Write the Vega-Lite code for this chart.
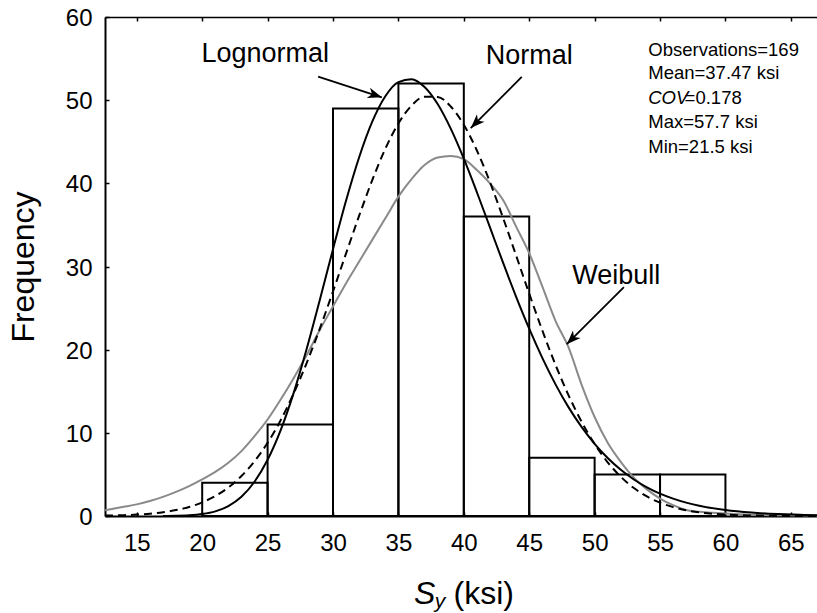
{
  "$schema": "https://vega.github.io/schema/vega-lite/v6.json",
  "autosize": {"type": "none"},
  "padding": {"left": 105, "top": 17, "right": 0, "bottom": 97},
  "width": 712,
  "height": 499,
  "background": "white",
  "config": {
    "view": {"stroke": null},
    "font": "Liberation Sans",
    "axis": {
      "grid": false,
      "domainColor": "black",
      "domainWidth": 2,
      "tickColor": "black",
      "tickWidth": 1.5,
      "tickSize": -4,
      "labelColor": "black",
      "labelFont": "Liberation Sans",
      "labelFontSize": 24,
      "titleColor": "black",
      "titleFont": "Liberation Sans",
      "titleFontWeight": "normal"
    }
  },
  "datasets": {
    "bins": [
      {"x0": 20, "x1": 25, "count": 4},
      {"x0": 25, "x1": 30, "count": 11},
      {"x0": 30, "x1": 35, "count": 49},
      {"x0": 35, "x1": 40, "count": 52},
      {"x0": 40, "x1": 45, "count": 36},
      {"x0": 45, "x1": 50, "count": 7},
      {"x0": 50, "x1": 55, "count": 5},
      {"x0": 55, "x1": 60, "count": 5}
    ],
    "weibull": [
      {"x": 12.57, "y": 0.7}, {"x": 14, "y": 1.1}, {"x": 15, "y": 1.4}, {"x": 16, "y": 1.8},
      {"x": 17, "y": 2.3}, {"x": 18, "y": 2.9}, {"x": 19, "y": 3.6}, {"x": 20, "y": 4.4},
      {"x": 21, "y": 5.3}, {"x": 22, "y": 6.4}, {"x": 23, "y": 7.8}, {"x": 24, "y": 9.6},
      {"x": 25, "y": 11.6}, {"x": 26, "y": 14.0}, {"x": 27, "y": 16.6}, {"x": 28, "y": 19.4},
      {"x": 29, "y": 22.4}, {"x": 30, "y": 25.2}, {"x": 31, "y": 28.0}, {"x": 32, "y": 30.6},
      {"x": 33, "y": 33.2}, {"x": 34, "y": 35.8}, {"x": 35, "y": 38.4}, {"x": 36, "y": 40.5},
      {"x": 37, "y": 42.2}, {"x": 38, "y": 43.1}, {"x": 39, "y": 43.3}, {"x": 40, "y": 42.9},
      {"x": 41, "y": 41.6}, {"x": 42, "y": 40.0}, {"x": 43, "y": 38.0}, {"x": 44, "y": 34.8},
      {"x": 45, "y": 31.6}, {"x": 46, "y": 27.6}, {"x": 47, "y": 23.5}, {"x": 48, "y": 20.3},
      {"x": 49, "y": 15.8}, {"x": 50, "y": 11.9}, {"x": 51, "y": 8.8}, {"x": 52, "y": 6.5},
      {"x": 53, "y": 4.6}, {"x": 54, "y": 3.2}, {"x": 55, "y": 2.1}, {"x": 56, "y": 1.3},
      {"x": 57, "y": 0.72}, {"x": 58, "y": 0.5}, {"x": 59, "y": 0.4}, {"x": 60, "y": 0.3},
      {"x": 62, "y": 0.15}, {"x": 64, "y": 0.08}, {"x": 67, "y": 0.05}
    ],
    "normal": [
      {"x": 12.57, "y": 0.05}, {"x": 14, "y": 0.10}, {"x": 15, "y": 0.17}, {"x": 16, "y": 0.28},
      {"x": 17, "y": 0.46}, {"x": 18, "y": 0.71}, {"x": 19, "y": 1.09}, {"x": 20, "y": 1.64},
      {"x": 21, "y": 2.40}, {"x": 22, "y": 3.43}, {"x": 23, "y": 4.81}, {"x": 24, "y": 6.58},
      {"x": 25, "y": 8.80}, {"x": 26, "y": 11.52}, {"x": 27, "y": 14.75}, {"x": 28, "y": 18.45},
      {"x": 29, "y": 22.57}, {"x": 30, "y": 27.00}, {"x": 31, "y": 31.58}, {"x": 32, "y": 36.11},
      {"x": 33, "y": 40.38}, {"x": 34, "y": 44.16}, {"x": 35, "y": 47.20}, {"x": 36, "y": 49.34},
      {"x": 37, "y": 50.42}, {"x": 38, "y": 50.39}, {"x": 39, "y": 49.24}, {"x": 40, "y": 47.04},
      {"x": 41, "y": 43.95}, {"x": 42, "y": 40.14}, {"x": 43, "y": 35.85}, {"x": 44, "y": 31.31},
      {"x": 45, "y": 26.73}, {"x": 46, "y": 22.32}, {"x": 47, "y": 18.21}, {"x": 48, "y": 14.54},
      {"x": 49, "y": 11.35}, {"x": 50, "y": 8.66}, {"x": 51, "y": 6.46}, {"x": 52, "y": 4.72},
      {"x": 53, "y": 3.36}, {"x": 54, "y": 2.35}, {"x": 55, "y": 1.60}, {"x": 56, "y": 1.07},
      {"x": 57, "y": 0.69}, {"x": 58, "y": 0.44}, {"x": 59, "y": 0.28}, {"x": 60, "y": 0.17},
      {"x": 62, "y": 0.06}, {"x": 64, "y": 0.02}, {"x": 67, "y": 0.0}
    ],
    "lognormal": [
      {"x": 17, "y": 0.01}, {"x": 18, "y": 0.03}, {"x": 19, "y": 0.09}, {"x": 20, "y": 0.24},
      {"x": 21, "y": 0.56}, {"x": 22, "y": 1.20}, {"x": 23, "y": 2.32}, {"x": 24, "y": 4.12},
      {"x": 25, "y": 6.76}, {"x": 26, "y": 10.33}, {"x": 27, "y": 14.84}, {"x": 28, "y": 20.17},
      {"x": 29, "y": 26.03}, {"x": 30, "y": 32.08}, {"x": 31, "y": 37.93}, {"x": 32, "y": 43.14},
      {"x": 33, "y": 47.41}, {"x": 34, "y": 50.47}, {"x": 35, "y": 52.17}, {"x": 36, "y": 52.52},
      {"x": 37, "y": 51.58}, {"x": 38, "y": 49.53}, {"x": 39, "y": 46.57}, {"x": 40, "y": 42.96},
      {"x": 41, "y": 38.93}, {"x": 42, "y": 34.70}, {"x": 43, "y": 30.46}, {"x": 44, "y": 26.36},
      {"x": 45, "y": 22.52}, {"x": 46, "y": 19.01}, {"x": 47, "y": 15.86}, {"x": 48, "y": 13.09},
      {"x": 49, "y": 10.71}, {"x": 50, "y": 8.67}, {"x": 51, "y": 6.97}, {"x": 52, "y": 5.55},
      {"x": 53, "y": 4.39}, {"x": 54, "y": 3.45}, {"x": 55, "y": 2.69}, {"x": 56, "y": 2.09},
      {"x": 57, "y": 1.61}, {"x": 58, "y": 1.24}, {"x": 60, "y": 0.72}, {"x": 62, "y": 0.41},
      {"x": 64, "y": 0.23}, {"x": 67, "y": 0.09}
    ],
    "arrows": [
      {"name": "Lognormal", "x": 28.86, "y": 52.83, "x2": 33.73, "y2": 50.34},
      {"name": "Normal", "x": 44.43, "y": 52.79, "x2": 40.53, "y2": 46.65},
      {"name": "Weibull", "x": 52.24, "y": 27.52, "x2": 47.87, "y2": 20.66}
    ],
    "labels": [
      {"text": "Lognormal", "x": 24.82, "y": 54.55},
      {"text": "Normal", "x": 45.0, "y": 54.4},
      {"text": "Weibull", "x": 51.65, "y": 27.92}
    ],
    "stats": [
      {"text": "Observations=169", "x": 54.1, "y": 55.36},
      {"text": "Mean=37.47 ksi", "x": 54.1, "y": 52.53},
      {"text": "=0.178", "x": 56.88, "y": 49.52},
      {"text": "Max=57.7 ksi", "x": 54.1, "y": 46.63},
      {"text": "Min=21.5 ksi", "x": 54.1, "y": 43.68}
    ],
    "statsItalic": [
      {"text": "COV", "x": 54.1, "y": 49.52}
    ],
    "xtitleMain": [
      {"text": "S", "x": 36.2, "y": -10.59}
    ],
    "xtitleSub": [
      {"text": "y", "x": 37.77, "y": -11.07}
    ],
    "xtitleUnit": [
      {"text": "(ksi)", "x": 39.22, "y": -10.59}
    ]
  },
  "resolve": {"axis": {"x": "independent", "y": "independent"}},
  "layer": [
    {
      "data": {"name": "bins"},
      "mark": {"type": "rect", "fill": "transparent", "stroke": "black", "strokeWidth": 2},
      "encoding": {
        "x": {"field": "x0", "type": "quantitative",
              "scale": {"domain": [12.57, 67], "nice": false, "zero": false},
              "axis": {"orient": "bottom", "values": [15, 20, 25, 30, 35, 40, 45, 50, 55, 60, 65], "title": null, "labelPadding": 19}},
        "x2": {"field": "x1"},
        "y": {"field": "count", "type": "quantitative",
              "scale": {"domain": [0, 60], "nice": false, "zero": true},
              "axis": {"orient": "left", "values": [0, 10, 20, 30, 40, 50, 60], "title": "Frequency", "titleFontSize": 32, "labelPadding": 17, "labelOffset": 1.5, "titlePadding": 25}},
        "y2": {"datum": 0}
      }
    },
    {
      "data": {"name": "weibull"},
      "mark": {"type": "line", "color": "#8a8a8a", "strokeWidth": 2, "interpolate": "monotone"},
      "encoding": {
        "x": {"field": "x", "type": "quantitative",
              "axis": {"orient": "top", "values": [15, 20, 25, 30, 35, 40, 45, 50, 55, 60, 65], "labels": false, "title": null, "domainWidth": 1.5}},
        "y": {"field": "y", "type": "quantitative", "axis": null}
      }
    },
    {
      "data": {"name": "normal"},
      "mark": {"type": "line", "color": "black", "strokeWidth": 2, "strokeDash": [8, 5], "interpolate": "monotone"},
      "encoding": {
        "x": {"field": "x", "type": "quantitative", "axis": null},
        "y": {"field": "y", "type": "quantitative", "axis": null}
      }
    },
    {
      "data": {"name": "lognormal"},
      "mark": {"type": "line", "color": "black", "strokeWidth": 2, "interpolate": "monotone"},
      "encoding": {
        "x": {"field": "x", "type": "quantitative", "axis": null},
        "y": {"field": "y", "type": "quantitative", "axis": null}
      }
    },
    {
      "data": {"name": "arrows"},
      "mark": {"type": "rule", "color": "black", "strokeWidth": 1.8},
      "encoding": {
        "x": {"field": "x", "type": "quantitative", "axis": null},
        "y": {"field": "y", "type": "quantitative", "axis": null},
        "x2": {"field": "x2"},
        "y2": {"field": "y2"}
      }
    },
    {
      "data": {"name": "arrows"},
      "transform": [{"filter": "datum.name === 'Lognormal'"}],
      "mark": {"type": "point", "filled": true, "color": "black", "opacity": 1, "size": 800, "angle": 108,
               "shape": "M0,0 L0.38,1 L0,0.72 L-0.38,1 Z"},
      "encoding": {
        "x": {"field": "x2", "type": "quantitative", "axis": null},
        "y": {"field": "y2", "type": "quantitative", "axis": null}
      }
    },
    {
      "data": {"name": "arrows"},
      "transform": [{"filter": "datum.name !== 'Lognormal'"}],
      "mark": {"type": "point", "filled": true, "color": "black", "opacity": 1, "size": 800, "angle": 225,
               "shape": "M0,0 L0.38,1 L0,0.72 L-0.38,1 Z"},
      "encoding": {
        "x": {"field": "x2", "type": "quantitative", "axis": null},
        "y": {"field": "y2", "type": "quantitative", "axis": null}
      }
    },
    {
      "data": {"name": "labels"},
      "mark": {"type": "text", "fontSize": 27, "align": "center", "baseline": "alphabetic", "color": "black", "font": "Liberation Sans"},
      "encoding": {
        "x": {"field": "x", "type": "quantitative", "axis": null},
        "y": {"field": "y", "type": "quantitative", "axis": null},
        "text": {"field": "text"}
      }
    },
    {
      "data": {"name": "stats"},
      "mark": {"type": "text", "fontSize": 18.5, "align": "left", "baseline": "alphabetic", "color": "black", "font": "Liberation Sans"},
      "encoding": {
        "x": {"field": "x", "type": "quantitative", "axis": null},
        "y": {"field": "y", "type": "quantitative", "axis": null},
        "text": {"field": "text"}
      }
    },
    {
      "data": {"name": "statsItalic"},
      "mark": {"type": "text", "fontSize": 18.5, "fontStyle": "italic", "align": "left", "baseline": "alphabetic", "color": "black", "font": "Liberation Sans"},
      "encoding": {
        "x": {"field": "x", "type": "quantitative", "axis": null},
        "y": {"field": "y", "type": "quantitative", "axis": null},
        "text": {"field": "text"}
      }
    },
    {
      "data": {"name": "xtitleMain"},
      "mark": {"type": "text", "fontSize": 32, "fontStyle": "italic", "align": "left", "baseline": "alphabetic", "color": "black", "font": "Liberation Sans"},
      "encoding": {
        "x": {"field": "x", "type": "quantitative", "axis": null},
        "y": {"field": "y", "type": "quantitative", "axis": null},
        "text": {"field": "text"}
      }
    },
    {
      "data": {"name": "xtitleSub"},
      "mark": {"type": "text", "fontSize": 21, "fontStyle": "italic", "align": "left", "baseline": "alphabetic", "color": "black", "font": "Liberation Sans"},
      "encoding": {
        "x": {"field": "x", "type": "quantitative", "axis": null},
        "y": {"field": "y", "type": "quantitative", "axis": null},
        "text": {"field": "text"}
      }
    },
    {
      "data": {"name": "xtitleUnit"},
      "mark": {"type": "text", "fontSize": 32, "align": "left", "baseline": "alphabetic", "color": "black", "font": "Liberation Sans"},
      "encoding": {
        "x": {"field": "x", "type": "quantitative", "axis": null},
        "y": {"field": "y", "type": "quantitative", "axis": null},
        "text": {"field": "text"}
      }
    }
  ]
}
